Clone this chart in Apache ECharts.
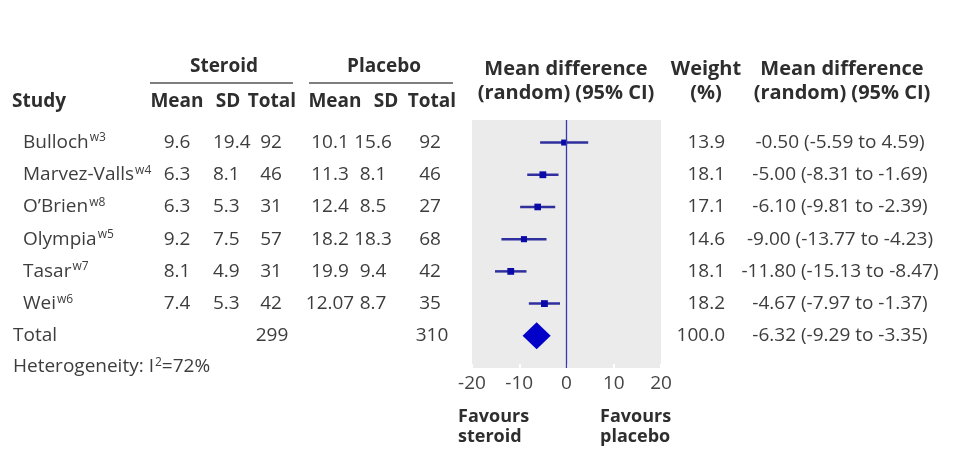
<!DOCTYPE html>
<html><head><meta charset="utf-8">
<script src="https://cdn.jsdelivr.net/npm/echarts@6/dist/echarts.min.js"></script>
<style>html,body{margin:0;padding:0;background:#fff}#c{width:975px;height:468px}</style>
</head><body><div id="c"></div>
<script>
const studies = ['Bulloch', 'Marvez-Valls', 'O\u2019Brien', 'Olympia', 'Tasar', 'Wei'];
const refs = ['w3', 'w4', 'w8', 'w5', 'w7', 'w6'];
const steroidMean = ['9.6', '6.3', '6.3', '9.2', '8.1', '7.4'];
const steroidSD = ['19.4', '8.1', '5.3', '7.5', '4.9', '5.3'];
const steroidN = [92, 46, 31, 57, 31, 42];
const placeboMean = ['10.1', '11.3', '12.4', '18.2', '19.9', '12.07'];
const placeboSD = ['15.6', '8.1', '8.5', '18.3', '9.4', '8.7'];
const placeboN = [92, 46, 27, 68, 42, 35];
const weights = [13.9, 18.1, 17.1, 14.6, 18.1, 18.2];
const md = [-0.50, -5.00, -6.10, -9.00, -11.80, -4.67];
const lo = [-5.59, -8.31, -9.81, -13.77, -15.13, -7.97];
const hi = [4.59, -1.69, -2.39, -4.23, -8.47, -1.37];
const totalSteroidN = 299, totalPlaceboN = 310;
const totalWeight = 100.0, totalMd = -6.32, totalLo = -9.29, totalHi = -3.35;
const heterogeneityI2 = 72;
const xTicks = [-20, -10, 0, 10, 20];

const FONT = '"Open Sans", "Noto Sans", sans-serif';
const TXT = '#3d3d3d', HDR = '#2e2e2e';
const FS = 19, FB = 19;
const chart = echarts.init(document.getElementById('c'));

const studyData = md.map((m, i) => [m, i, lo[i], hi[i], weights[i]]);
const nRows = studies.length; // total row index

chart.setOption({
  animation: false,
  grid: { left: 472, top: 120, width: 189, height: 248, show: true, backgroundColor: '#ebebeb', borderWidth: 0 },
  xAxis: {
    type: 'value', min: xTicks[0], max: xTicks[xTicks.length - 1], interval: 10,
    axisLine: { show: false, onZero: false }, splitLine: { show: false },
    axisTick: { show: true, inside: true, length: 4, lineStyle: { color: '#ffffff', width: 2 } },
    axisLabel: { color: '#444', fontSize: 19, fontFamily: FONT, margin: 6, formatter: v => String(v) }
  },
  yAxis: { type: 'value', inverse: true, min: -0.7, max: 7, show: false },
  series: [
    {
      type: 'custom', data: studyData, encode: { x: 0, y: 1 },
      renderItem: (params, api) => {
        const y = api.value(1);
        const a = api.coord([api.value(2), y]);
        const b = api.coord([api.value(3), y]);
        const c = api.coord([api.value(0), y]);
        const s = Math.sqrt(api.value(4)) * 1.6;
        return { type: 'group', children: [
          { type: 'line', shape: { x1: a[0], y1: a[1], x2: b[0], y2: b[1] }, style: { stroke: '#2f2f9e', lineWidth: 2.5 } },
          { type: 'rect', shape: { x: c[0] - s / 2, y: c[1] - s / 2, width: s, height: s }, style: { fill: '#0a0aa8' } }
        ]};
      },
      markLine: { silent: true, symbol: 'none', label: { show: false },
        lineStyle: { color: '#3838b5', width: 1.3, type: 'solid' }, data: [{ xAxis: 0 }] }
    },
    {
      type: 'custom', data: [[totalMd, nRows, totalLo, totalHi]], encode: { x: 0, y: 1 },
      renderItem: (params, api) => {
        const y = api.value(1);
        const l = api.coord([api.value(2), y]);
        const r = api.coord([api.value(3), y]);
        const c = api.coord([api.value(0), y]);
        const h = 13.5;
        return { type: 'polygon', shape: { points: [[l[0], c[1]], [c[0], c[1] - h], [r[0], c[1]], [c[0], c[1] + h]] },
          style: { fill: '#0000c8' } };
      }
    }
  ]
});

function rowY(i) { return chart.convertToPixel({ yAxisIndex: 0 }, i); }
const g = [];
function txt(x, y, s, align, opts) {
  g.push({ type: 'text', x: x, y: y, silent: true,
    style: Object.assign({ text: s, align: align || 'left', verticalAlign: 'middle', fill: TXT, fontSize: FS, fontFamily: FONT }, opts || {}) });
}
function bold(x, y, s, align, fs) { txt(x, y, s, align, { fontWeight: 'bold', fill: HDR, fontSize: fs || FB }); }

// headers
bold(224, 67, 'Steroid', 'center');
bold(384, 67, 'Placebo', 'center');
g.push({ type: 'line', shape: { x1: 150, y1: 83, x2: 293, y2: 83 }, style: { stroke: '#555', lineWidth: 1.5 } });
g.push({ type: 'line', shape: { x1: 309, y1: 83, x2: 453, y2: 83 }, style: { stroke: '#555', lineWidth: 1.5 } });
bold(12, 102, 'Study', 'left');
bold(177, 102, 'Mean', 'center');
bold(228, 102, 'SD', 'center');
bold(272, 102, 'Total', 'center');
bold(335, 102, 'Mean', 'center');
bold(386, 102, 'SD', 'center');
bold(432, 102, 'Total', 'center');
bold(566, 69, 'Mean difference', 'center', 20);
bold(566, 93, '(random) (95% CI)', 'center', 20);
bold(706, 69, 'Weight', 'center', 20);
bold(706, 93, '(%)', 'center', 20);
bold(842, 69, 'Mean difference', 'center', 20);
bold(842, 93, '(random) (95% CI)', 'center', 20);

const fmtCI = (m, a, b) => m.toFixed(2) + ' (' + a.toFixed(2) + ' to ' + b.toFixed(2) + ')';
const supRich = (s) => ({ fontSize: 12, fontFamily: FONT, fill: TXT, color: TXT, verticalAlign: 'top', padding: [0, 0, 9, 1] });
studies.forEach((s, i) => {
  const y = rowY(i);
  g.push({ type: 'text', x: 23, y: y, silent: true, style: {
    text: '{n|' + s + '}{s|' + refs[i] + '}', verticalAlign: 'middle', align: 'left',
    rich: { n: { fontSize: FS, fontFamily: FONT, fill: TXT, color: TXT }, s: supRich() } } });
  txt(177, y, steroidMean[i], 'center');
  txt(213, y, steroidSD[i], 'left');
  txt(271, y, String(steroidN[i]), 'center');
  txt(330, y, placeboMean[i], 'center');
  txt(373, y, placeboSD[i], 'center');
  txt(430, y, String(placeboN[i]), 'center');
  txt(725, y, weights[i].toFixed(1), 'right');
  txt(840, y, fmtCI(md[i], lo[i], hi[i]), 'center');
});
const ty = rowY(nRows);
txt(13, ty, 'Total', 'left');
txt(272, ty, String(totalSteroidN), 'center');
txt(432, ty, String(totalPlaceboN), 'center');
txt(725, ty, totalWeight.toFixed(1), 'right');
txt(840, ty, fmtCI(totalMd, totalLo, totalHi), 'center');
g.push({ type: 'text', x: 13, y: rowY(nRows + 1) - 1, silent: true, style: {
  text: '{n|Heterogeneity: I}{s|2}{n|=' + heterogeneityI2 + '%}', verticalAlign: 'middle', align: 'left',
  rich: { n: { fontSize: FS, fontFamily: FONT, fill: TXT, color: TXT }, s: supRich() } } });

// favours
bold(458, 417, 'Favours', 'left', 18);
bold(458, 437, 'steroid', 'left', 18);
bold(600, 417, 'Favours', 'left', 18);
bold(600, 437, 'placebo', 'left', 18);

chart.setOption({ graphic: g });
</script></body></html>
